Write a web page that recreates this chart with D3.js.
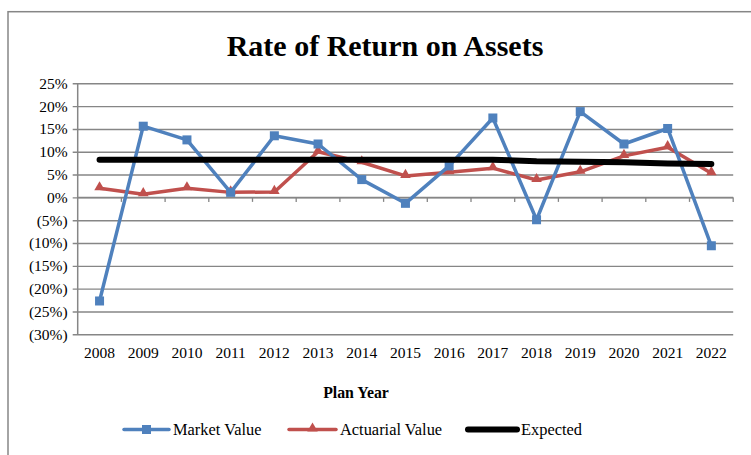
<!DOCTYPE html>
<html>
<head>
<meta charset="utf-8">
<script src="https://d3js.org/d3.v7.min.js"></script>
<style>
  body { margin: 0; background: #fff; }
  text { font-family: "Liberation Serif", "Times New Roman", serif; fill: #000; }
</style>
</head>
<body>
<div id="chart"></div>
<script>
// chart data
var years = ["2008", "2009", "2010", "2011", "2012", "2013", "2014", "2015",
             "2016", "2017", "2018", "2019", "2020", "2021", "2022"];
var marketValue = [-22.7, 15.6, 12.6, 1.1, 13.5, 11.7, 3.9, -1.3, 6.9, 17.4, -4.9, 18.8, 11.7, 15.1, -10.6];
var actuarialValue = [2.0, 0.7, 2.0, 1.1, 1.2, 10.0, 7.7, 4.7, 5.5, 6.4, 3.8, 5.6, 9.1, 11.0, 5.3];
var expected = [8.25, 8.25, 8.25, 8.25, 8.25, 8.25, 8.25, 8.25, 8.25, 8.25, 7.9, 7.8, 7.7, 7.4, 7.3];
var yTicks = [25, 20, 15, 10, 5, 0, -5, -10, -15, -20, -25, -30];
var seriesNames = ["Market Value", "Actuarial Value", "Expected"];

var svgWidth = 751;
var svgHeight = 455;

var margin = { top: 83.3, right: 17.8, bottom: 120.7, left: 77.7 };
var width = svgWidth - margin.left - margin.right;
var height = svgHeight - margin.top - margin.bottom;

var gridColor = "#868686";
var blue = "#4F81BD";
var red = "#C0504D";

var svg = d3.select("#chart")
  .append("svg")
  .attr("width", svgWidth)
  .attr("height", svgHeight);

// outer frame (runs past the window on the right and bottom)
svg.append("rect")
  .attr("x", 8).attr("y", 11.7)
  .attr("width", 760).attr("height", 460)
  .attr("fill", "none")
  .attr("stroke", gridColor)
  .attr("stroke-width", 1.5);

svg.append("text")
  .attr("x", 385)
  .attr("y", 56)
  .attr("text-anchor", "middle")
  .attr("font-size", "30px")
  .attr("font-weight", "bold")
  .text("Rate of Return on Assets");

var chartGroup = svg.append("g")
  .attr("transform", `translate(${margin.left}, ${margin.top})`);

// scales
var xScale = d3.scaleBand()
  .domain(years)
  .range([0, width]);

var yScale = d3.scaleLinear()
  .domain([-30, 25])
  .range([height, 0]);

var fmt = function(v) {
  if (v < 0) return "(" + Math.abs(v) + "%)";
  return v + "%";
};

// y axis with gridlines
var leftAxis = d3.axisLeft(yScale)
  .tickValues(yTicks)
  .tickSize(-width - 5)
  .tickPadding(10)
  .tickFormat(fmt);

var yAxisG = chartGroup.append("g")
  .call(leftAxis);
yAxisG.select(".domain").remove();
yAxisG.selectAll(".tick line")
  .attr("x1", -5)
  .attr("x2", width)
  .attr("stroke", gridColor)
  .attr("stroke-width", 1.4);
yAxisG.selectAll(".tick text")
  .attr("font-size", "15.5px")
  .attr("font-family", "Liberation Serif, Times New Roman, serif");

chartGroup.append("line")
  .attr("x1", 0).attr("x2", 0)
  .attr("y1", 0).attr("y2", height)
  .attr("stroke", gridColor)
  .attr("stroke-width", 1.5);

// category axis crossing at 0%
var zeroY = yScale(0);
chartGroup.append("line")
  .attr("x1", 0).attr("x2", width)
  .attr("y1", zeroY).attr("y2", zeroY)
  .attr("stroke", gridColor)
  .attr("stroke-width", 1.5);

var boundaries = years.slice(1).map(d => xScale(d)).concat([width]);
chartGroup.selectAll(".xtick")
  .data(boundaries)
  .enter()
  .append("line")
  .attr("class", "xtick")
  .attr("x1", d => d).attr("x2", d => d)
  .attr("y1", zeroY).attr("y2", zeroY + 4.5)
  .attr("stroke", gridColor)
  .attr("stroke-width", 1.3);

// category labels at the bottom
var bottomAxis = d3.axisBottom(xScale)
  .tickSize(0)
  .tickPadding(12.5);
var xAxisG = chartGroup.append("g")
  .attr("transform", `translate(0, ${height})`)
  .call(bottomAxis);
xAxisG.select(".domain").remove();
xAxisG.selectAll(".tick text")
  .attr("font-size", "15.5px")
  .attr("font-family", "Liberation Serif, Times New Roman, serif");

// lines
var lineGen = d3.line()
  .x((d, i) => xScale(years[i]) + xScale.bandwidth() / 2)
  .y(d => yScale(d));

var tri = d3.symbol().type(d3.symbolTriangle).size(48);

chartGroup.append("path")
  .datum(actuarialValue)
  .attr("d", lineGen)
  .attr("fill", "none")
  .attr("stroke", red)
  .attr("stroke-width", 3.5)
  .attr("stroke-linejoin", "round");

chartGroup.selectAll(".tri")
  .data(actuarialValue)
  .enter()
  .append("path")
  .attr("class", "tri")
  .attr("d", tri)
  .attr("transform", (d, i) => `translate(${xScale(years[i]) + xScale.bandwidth() / 2}, ${yScale(d) - 1})`)
  .attr("fill", red);

chartGroup.append("path")
  .datum(marketValue)
  .attr("d", lineGen)
  .attr("fill", "none")
  .attr("stroke", blue)
  .attr("stroke-width", 3.5)
  .attr("stroke-linejoin", "round");

chartGroup.selectAll(".sq")
  .data(marketValue)
  .enter()
  .append("rect")
  .attr("class", "sq")
  .attr("x", (d, i) => xScale(years[i]) + xScale.bandwidth() / 2 - 4.5)
  .attr("y", d => yScale(d) - 4.5)
  .attr("width", 9)
  .attr("height", 9)
  .attr("fill", blue);

chartGroup.append("path")
  .datum(expected)
  .attr("d", lineGen)
  .attr("fill", "none")
  .attr("stroke", "#000")
  .attr("stroke-width", 6)
  .attr("stroke-linecap", "round")
  .attr("stroke-linejoin", "round");

// axis title
svg.append("text")
  .attr("x", 356)
  .attr("y", 398)
  .attr("text-anchor", "middle")
  .attr("font-size", "15.8px")
  .attr("font-weight", "bold")
  .text("Plan Year");

// legend
var legendY = 429.5;
var legendItems = [
  { name: seriesNames[0], x1: 124, x2: 169, color: blue, w: 3.5, marker: "sq" },
  { name: seriesNames[1], x1: 289, x2: 336, color: red, w: 3.5, marker: "tri" },
  { name: seriesNames[2], x1: 468, x2: 517, color: "#000", w: 6, marker: null }
];

var legend = svg.selectAll(".legend")
  .data(legendItems)
  .enter()
  .append("g")
  .attr("class", "legend");

legend.append("line")
  .attr("x1", d => d.x1).attr("x2", d => d.x2)
  .attr("y1", legendY).attr("y2", legendY)
  .attr("stroke", d => d.color)
  .attr("stroke-width", d => d.w)
  .attr("stroke-linecap", "round");

legend.filter(d => d.marker === "sq")
  .append("rect")
  .attr("x", d => (d.x1 + d.x2) / 2 - 4.5)
  .attr("y", legendY - 4.5)
  .attr("width", 9).attr("height", 9)
  .attr("fill", d => d.color);

legend.filter(d => d.marker === "tri")
  .append("path")
  .attr("d", tri)
  .attr("transform", d => `translate(${(d.x1 + d.x2) / 2}, ${legendY - 1})`)
  .attr("fill", d => d.color);

legend.append("text")
  .attr("x", d => d.x2 + 4)
  .attr("y", 435)
  .attr("font-size", "16.4px")
  .text(d => d.name);
</script>
</body>
</html>
